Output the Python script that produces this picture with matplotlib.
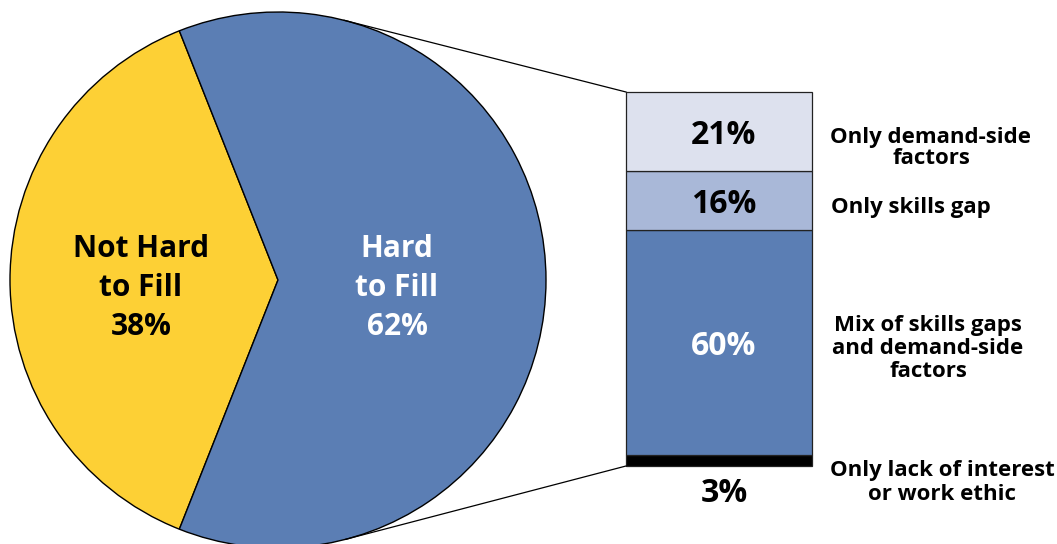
import numpy as np
import matplotlib.pyplot as plt

plt.rcParams['font.family'] = ['Open Sans', 'DejaVu Sans']
plt.rcParams['font.weight'] = 'bold'

# data
pie_labels = ['Not Hard\nto Fill\n38%', 'Hard\nto Fill\n62%']
pie_values = [38, 62]
pie_colors = ['#FDD035', '#5B7EB4']

bar_values = [3, 60, 16, 21]           # bottom to top
bar_text = ['3%', '60%', '16%', '21%']
bar_colors = ['#000000', '#5B7EB4', '#A9B8D8', '#DDE1EE']
bar_text_colors = ['black', 'white', 'black', 'black']
side_labels = ['Only lack of interest\nor work ethic',
               'Mix of skills gaps\nand demand-side\nfactors',
               'Only skills gap',
               'Only demand-side\nfactors']

W, H = 1057, 544
fig = plt.figure(figsize=(W / 100, H / 100), dpi=100)
ax = fig.add_axes([0, 0, 1, 1])
ax.set_xlim(0, W)
ax.set_ylim(0, H)
ax.set_aspect('equal')
ax.axis('off')

# pie
cx, cy, r = 278, 264, 268
start = 180 - pie_values[0] / 100 * 360 / 2
ax.pie(pie_values, colors=pie_colors, startangle=start, counterclock=True,
       center=(cx, cy), radius=r,
       wedgeprops=dict(edgecolor='black', linewidth=1))
ax.set_xlim(0, W)
ax.set_ylim(0, H)
ax.text(141, H - 288, pie_labels[0], ha='center', va='center', fontsize=21.5,
        color='black', linespacing=1.37)
ax.text(397, H - 288, pie_labels[1], ha='center', va='center', fontsize=21.5,
        color='white', linespacing=1.37)

# stacked bar
bx0, bx1 = 626, 812
bar_bottom = H - 466
scale = 374 / 100
bottom = bar_bottom
for v, t, c, tc in zip(bar_values, bar_text, bar_colors, bar_text_colors):
    h = v * scale
    ax.bar((bx0 + bx1) / 2, h, width=bx1 - bx0, bottom=bottom, color=c,
           edgecolor='#222222', linewidth=0.9)
    if v > 5:
        ax.text(724, bottom + h / 2 - 12.5, t, ha='center', va='baseline',
                fontsize=23, color=tc)
    else:
        ax.text(724, bottom - 36, t, ha='center', va='baseline',
                fontsize=23, color=tc)
    bottom += h
bar_top = bottom

# side labels
side_pos = [(942, H - 482.5), (928, H - 348.5), (831, H - 207), (931, H - 148)]
side_ls = [1.15, 1.15, 1.15, 1.05]
for (x, y), s, ls in zip(side_pos, side_labels, side_ls):
    ax.text(x, y, s, ha='left' if s == 'Only skills gap' else 'center',
            va='center', fontsize=16, linespacing=ls)


# connector lines tangent to the pie
def tangent(px, py, upper):
    dx, dy = px - cx, py - cy
    d = np.hypot(dx, dy)
    a = np.arctan2(dy, dx)
    b = np.arccos(r / d)
    ang = a + b if upper else a - b
    return cx + r * np.cos(ang), cy + r * np.sin(ang)


tx, ty = tangent(bx0, bar_top, True)
ax.plot([tx, bx0], [ty, bar_top], color='black', lw=0.9)
tx, ty = tangent(bx0, bar_bottom, False)
ax.plot([tx, bx0], [ty, bar_bottom], color='black', lw=0.9)

fig.savefig('out.png', dpi=100)
